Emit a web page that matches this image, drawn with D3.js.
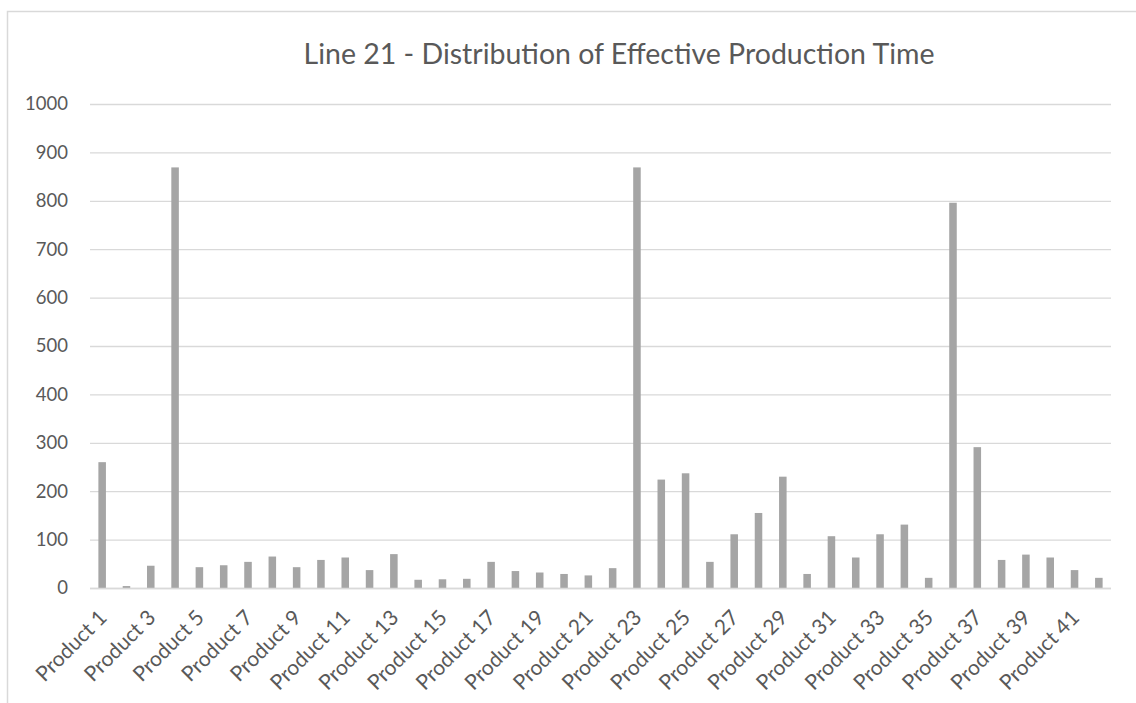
<!DOCTYPE html>
<html>
<head>
<meta charset="utf-8">
<script src="https://cdn.jsdelivr.net/npm/d3@7"></script>
<style>
  html, body { margin: 0; padding: 0; background: #fff; }
  svg { display: block; }
  text { font-family: Lato, "Open Sans", sans-serif; fill: #595959; }
</style>
</head>
<body>
<svg id="chart" width="1136" height="703"></svg>
<script>
// Effective production time per product on Line 21
const title = "Line 21 - Distribution of Effective Production Time";
const products = d3.range(1, 43).map(i => "Product " + i);
const productionTime = [
  260, 4, 46, 869, 43, 47, 54, 65, 43, 58,
  63, 37, 70, 17, 18, 19, 54, 35, 32, 29,
  26, 41, 869, 224, 237, 54, 111, 155, 230, 29,
  107, 63, 111, 131, 21, 796, 291, 58, 69, 63,
  37, 21
];
const yTicks = [0, 100, 200, 300, 400, 500, 600, 700, 800, 900, 1000];

const svg = d3.select("#chart");
const plot = { left: 90, right: 1111, top: 104, bottom: 588 };

// chart frame (continues past the right and bottom edges)
svg.append("rect")
  .attr("x", 7.5).attr("y", 11.5)
  .attr("width", 1140).attr("height", 700)
  .attr("fill", "none")
  .attr("stroke", "#d9d9d9")
  .attr("stroke-width", 1.5);

const x = d3.scaleBand()
  .domain(products)
  .range([plot.left, plot.right])
  .paddingInner(0.69)
  .paddingOuter(0.345);

const y = d3.scaleLinear()
  .domain([0, 1000])
  .range([plot.bottom, plot.top]);

// horizontal gridlines and value labels
const yAxis = d3.axisLeft(y)
  .tickValues(yTicks)
  .tickFormat(d3.format("d"))
  .tickSize(-(plot.right - plot.left))
  .tickPadding(22);

const gy = svg.append("g")
  .attr("transform", `translate(${plot.left},0)`)
  .call(yAxis);
gy.select(".domain").remove();
gy.selectAll(".tick line")
  .attr("stroke", "#d9d9d9")
  .attr("stroke-width", 1.3);
gy.selectAll(".tick text")
  .style("font-size", "18.5px")
  .attr("fill", "#595959");

// bars
svg.append("g")
  .selectAll("rect")
  .data(productionTime)
  .join("rect")
  .attr("x", (d, i) => x(products[i]))
  .attr("y", d => y(d))
  .attr("width", x.bandwidth())
  .attr("height", d => y(0) - y(d))
  .attr("fill", "#a5a5a5");

// category axis, every second product labelled
const xAxis = d3.axisBottom(x)
  .tickValues(products.filter((p, i) => i % 2 === 0))
  .tickSize(0)
  .tickPadding(0);

const gx = svg.append("g")
  .attr("transform", `translate(0,${plot.bottom})`)
  .call(xAxis);
gx.select(".domain")
  .attr("stroke", "#d9d9d9")
  .attr("stroke-width", 1.3)
  .attr("d", `M${plot.left},0.5H${plot.right}`);
gx.selectAll(".tick text")
  .style("font-size", "21px")
  .attr("fill", "#595959")
  .attr("text-anchor", "end")
  .attr("dy", 0)
  .attr("y", 0)
  .attr("transform", "translate(6,31) rotate(-45)");

// title
svg.append("text")
  .attr("x", 619)
  .attr("y", 64)
  .attr("text-anchor", "middle")
  .style("font-size", "28.5px")
  .attr("fill", "#595959")
  .text(title);
</script>
</body>
</html>
